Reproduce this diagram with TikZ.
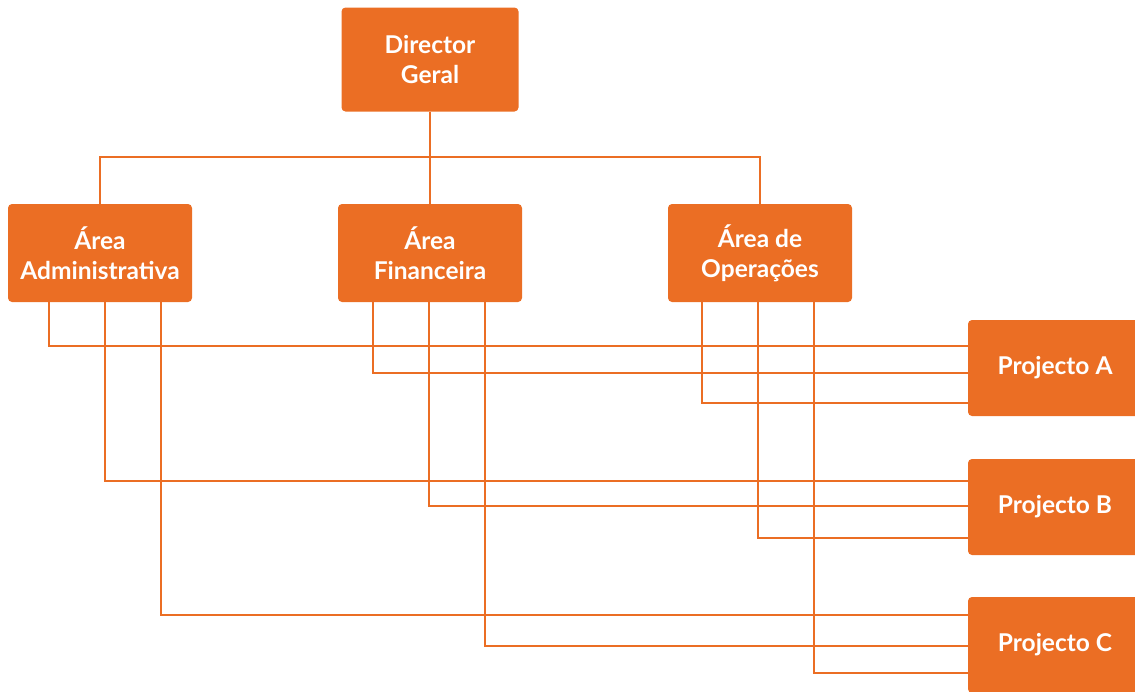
\documentclass[tikz,border=0pt]{standalone}
\usepackage{fontspec}
\setmainfont{Lato}
\begin{document}
\definecolor{orgorange}{HTML}{EB6E24}
\begin{tikzpicture}[x=1pt,y=-1pt,
  unitbox/.style={fill=orgorange, draw=none, rounded corners=4pt, text=white,
    font=\fontsize{24.5}{30}\selectfont\bfseries, align=center, inner sep=0pt},
  areabox/.style={unitbox, minimum width=184pt, minimum height=98pt},
  projbox/.style={unitbox, minimum width=174pt, minimum height=96pt},
  link/.style={draw=orgorange, line width=1.8pt}]
\useasboundingbox (0,0) rectangle (1135,691);
\begin{scope}
\clip (0,0) rectangle (1135,691);

% hierarchy boxes
\node[unitbox, minimum width=177pt, minimum height=104pt] (dir) at (430,59.5) {Director\\Geral};
\node[areabox] (adm) at (100,253) {Área\\Administrativa};
\node[areabox] (fin) at (430,253) {Área\\Financeira};
\node[areabox] (ops) at (760,253) {Área de\\Operações};

% project boxes
\node[projbox] (pa) at (1055,368) {Projecto A};
\node[projbox] (pb) at (1055,507) {Projecto B};
\node[projbox] (pc) at (1055,645) {Projecto C};

% director to areas
\coordinate (bus) at (430,157);
\draw[link] (dir.south) -- (bus);
\draw[link] (adm.north) |- (bus) -| (ops.north);
\draw[link] (bus) -- (fin.north);

% areas to projects
\draw[link] (adm.south -| 49,0) |- (pa.west |- 0,346);
\draw[link] (adm.south -| 105,0) |- (pb.west |- 0,481);
\draw[link] (adm.south -| 161,0) |- (pc.west |- 0,615);

\draw[link] (fin.south -| 373,0) |- (pa.west |- 0,373);
\draw[link] (fin.south -| 429,0) |- (pb.west |- 0,506);
\draw[link] (fin.south -| 485,0) |- (pc.west |- 0,646);

\draw[link] (ops.south -| 702,0) |- (pa.west |- 0,403);
\draw[link] (ops.south -| 758,0) |- (pb.west |- 0,538);
\draw[link] (ops.south -| 814,0) |- (pc.west |- 0,673);
\end{scope}
\end{tikzpicture}
\end{document}
